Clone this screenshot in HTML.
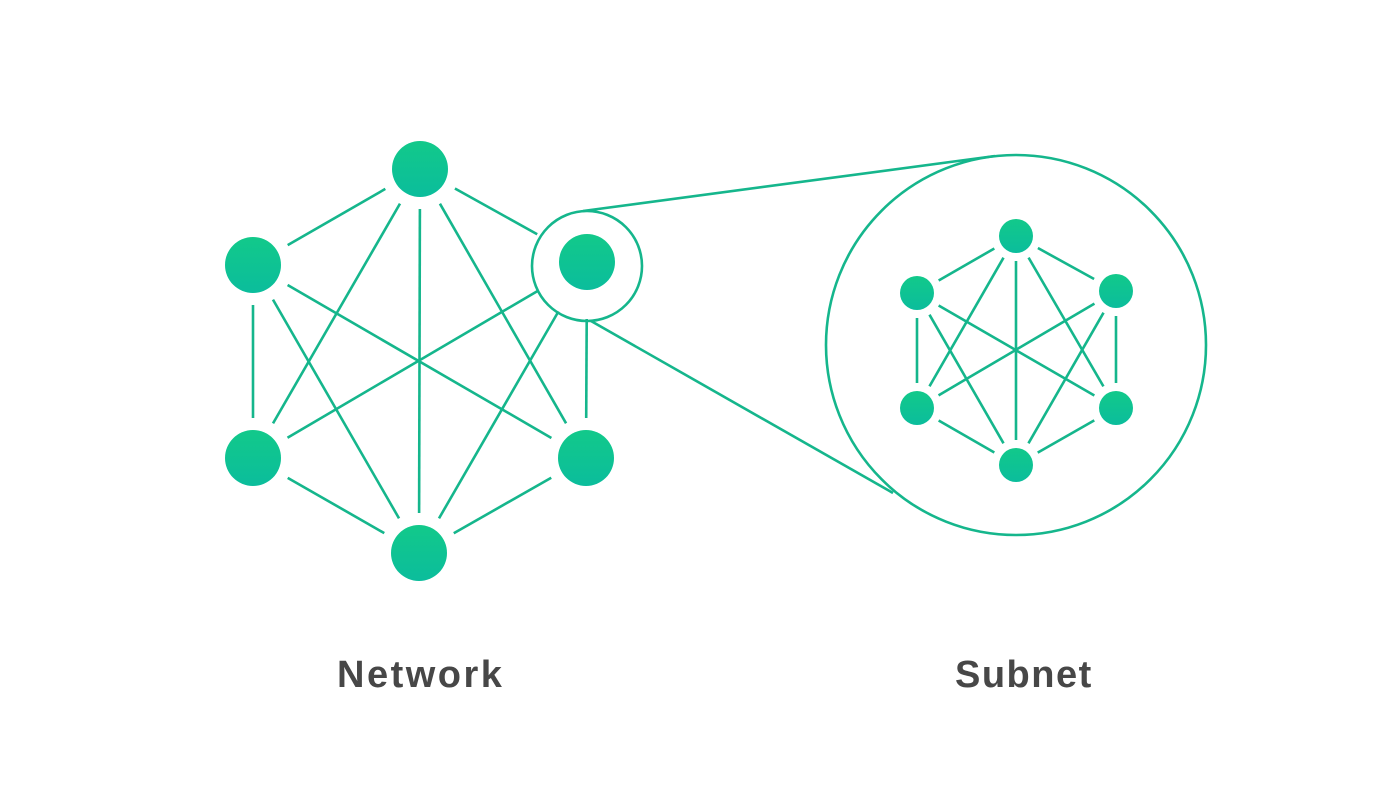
<!DOCTYPE html>
<html><head><meta charset="utf-8"><style>
html,body{margin:0;padding:0;background:#fff;width:1400px;height:788px;overflow:hidden}
svg{position:absolute;left:0;top:0}
.t{position:absolute;font-family:"Liberation Sans",sans-serif;font-weight:bold;font-size:38px;color:#474747;letter-spacing:2.5px}
</style></head><body>
<svg id="s" width="1400" height="788" xmlns="http://www.w3.org/2000/svg">
<defs><linearGradient id="g" x1="0" y1="0" x2="0" y2="1"><stop offset="0" stop-color="#12c98a"/><stop offset="1" stop-color="#0bbd9c"/></linearGradient></defs>
<g id="L" stroke="#15b68c" stroke-width="2.6" fill="none">
<circle cx="587" cy="266" r="55"/>
<circle cx="1016" cy="345" r="190"/>
<line x1="583" y1="211" x2="995" y2="156"/>
<line x1="591" y1="321" x2="893" y2="493"/>
</g>
<g id="N"></g>
</svg>
<div class="t" style="left:337px;top:654px">Network</div>
<div class="t" style="left:955px;top:654px;letter-spacing:1.5px">Subnet</div>
<script>
var ns="http://www.w3.org/2000/svg",L=document.getElementById('L'),N=document.getElementById('N');
function graph(pts,r,gap){
 for(var i=0;i<pts.length;i++)for(var j=i+1;j<pts.length;j++){
  if((i==1&&j==2)||(i==3&&j==4))continue;
  var a=pts[i],b=pts[j],dx=b[0]-a[0],dy=b[1]-a[1],d=Math.hypot(dx,dy),ux=dx/d,uy=dy/d;
  var ga=a[2]||gap,gb=b[2]||gap;
  var l=document.createElementNS(ns,'line');
  l.setAttribute('x1',a[0]+ux*ga);l.setAttribute('y1',a[1]+uy*ga);
  l.setAttribute('x2',b[0]-ux*gb);l.setAttribute('y2',b[1]-uy*gb);
  L.appendChild(l);
 }
 pts.forEach(function(p){var c=document.createElementNS(ns,'circle');c.setAttribute('cx',p[0]);c.setAttribute('cy',p[1]);c.setAttribute('r',r);c.setAttribute('fill','url(#g)');N.appendChild(c);});
}
graph([[420,169],[253,265],[587,262,57],[253,458],[586,458],[419,553]],28,40);
graph([[1016,236],[917,293],[1116,291],[917,408],[1116,408],[1016,465]],17,25);
</script>
</body></html>
